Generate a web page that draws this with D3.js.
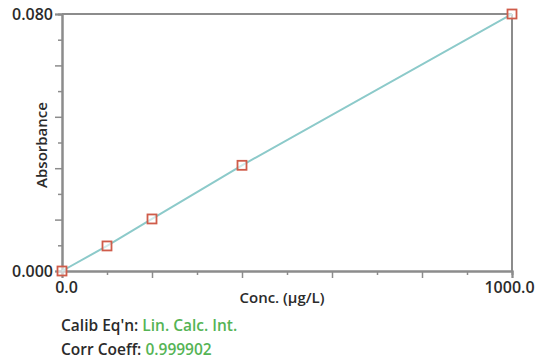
<!DOCTYPE html>
<html>
<head>
<meta charset="utf-8">
<script src="https://cdn.jsdelivr.net/npm/d3@7"></script>
<style>
  body { margin: 0; background: #fff; }
  svg { display: block; font-family: "Open Sans", sans-serif; }
</style>
</head>
<body>
<svg id="chart" width="536" height="360"></svg>
<script>
// calibration standards
const concentrations = [0, 100, 200, 400, 1000];
const absorbances = [0.0, 0.0078, 0.0162, 0.0329, 0.0800];
const xEnds = [0, 1000];
const yEnds = [0, 0.08];
const xTicks = d3.range(0, 1001, 100);
const yTicks = d3.range(0, 0.0801, 0.008);
const infoLabels = ["Calib Eq'n:", "Corr Coeff:"];
const infoValues = ["Lin. Calc. Int.", "0.999902"];

const svg = d3.select("#chart");
const axisColor = "#8c8c8c";
const textColor = "#2b2b2b";

const x = d3.scaleLinear().domain(xEnds).range([62, 512]);
const y = d3.scaleLinear().domain(yEnds).range([271, 14]);

// frame: top and right edges
svg.append("line")
    .attr("x1", x(0)).attr("x2", x(1000))
    .attr("y1", y(0.08)).attr("y2", y(0.08))
    .attr("stroke", axisColor).attr("stroke-width", 2);
svg.append("line")
    .attr("x1", x(1000)).attr("x2", x(1000))
    .attr("y1", y(0.08)).attr("y2", y(0) + 1)
    .attr("stroke", axisColor).attr("stroke-width", 2);

// y axis: minor then major ticks
const isMajorY = (d, i) => i % 2 === 0;
const yMinor = d3.axisLeft(y).tickValues(yTicks.filter((d, i) => !isMajorY(d, i))).tickSize(4).tickFormat("");
const yMajor = d3.axisLeft(y).tickValues(yTicks.filter(isMajorY)).tickSize(7)
    .tickFormat(d => (Math.abs(d) < 1e-9 || Math.abs(d - 0.08) < 1e-9) ? d3.format(".3f")(d) : "");

const gy1 = svg.append("g").attr("transform", `translate(${x(0)},0)`).call(yMinor);
const gy2 = svg.append("g").attr("transform", `translate(${x(0)},0)`).call(yMajor);

// x axis
const isMajorX = (d, i) => i % 2 === 0;
const xMinor = d3.axisBottom(x).tickValues(xTicks.filter((d, i) => !isMajorX(d, i))).tickSize(4).tickFormat("");
const xMajor = d3.axisBottom(x).tickValues(xTicks.filter(isMajorX)).tickSize(7)
    .tickFormat(d => (d === 0 || d === 1000) ? d3.format(".1f")(d) : "");

const gx1 = svg.append("g").attr("transform", `translate(0,${y(0)})`).call(xMinor);
const gx2 = svg.append("g").attr("transform", `translate(0,${y(0)})`).call(xMajor);

[gy1, gy2, gx1, gx2].forEach(g => {
    g.select(".domain").attr("stroke", axisColor).attr("stroke-width", 2);
    g.selectAll(".tick line").attr("stroke", axisColor).attr("stroke-width", 1.5);
    g.selectAll("text").attr("fill", textColor).attr("font-size", 16)
        .attr("font-weight", 600).attr("font-family", "Open Sans, sans-serif");
});
gy2.selectAll(".tick text").attr("x", -9);
gx2.selectAll(".tick text").attr("y", 11).attr("dx", d => d === 0 ? 4 : -3);

// axis titles
svg.append("text")
    .attr("x", 282).attr("y", 303)
    .attr("text-anchor", "middle")
    .attr("font-size", 15).attr("font-weight", 600).attr("fill", textColor)
    .text("Conc. (µg/L)");
svg.append("text")
    .attr("transform", `translate(47,145) rotate(-90)`)
    .attr("text-anchor", "middle")
    .attr("font-size", 15).attr("font-weight", 600).attr("fill", textColor)
    .text("Absorbance");

// fit line
const line = d3.line().x((d, i) => x(concentrations[i])).y(d => y(d));
svg.append("path")
    .datum(absorbances)
    .attr("d", line)
    .attr("fill", "none")
    .attr("stroke", "#8ccaca")
    .attr("stroke-width", 2);

// standards
svg.selectAll(".pt")
    .data(absorbances)
    .join("rect")
    .attr("class", "pt")
    .attr("x", (d, i) => x(concentrations[i]) - 4.5)
    .attr("y", d => y(d) - 4.5)
    .attr("width", 9).attr("height", 9)
    .attr("fill", "#fff")
    .attr("fill-opacity", 0.6)
    .attr("stroke", "#cf5c4a")
    .attr("stroke-width", 1.8);

// calibration info
const info = svg.append("g");
infoLabels.forEach((lab, i) => {
    const t = info.append("text")
        .attr("x", 61).attr("y", 331 + i * 24)
        .attr("font-size", 15.5).attr("font-weight", 600);
    t.append("tspan").attr("fill", textColor).text(lab + " ");
    t.append("tspan").attr("fill", "#55b455").text(infoValues[i]);
});
</script>
</body>
</html>
